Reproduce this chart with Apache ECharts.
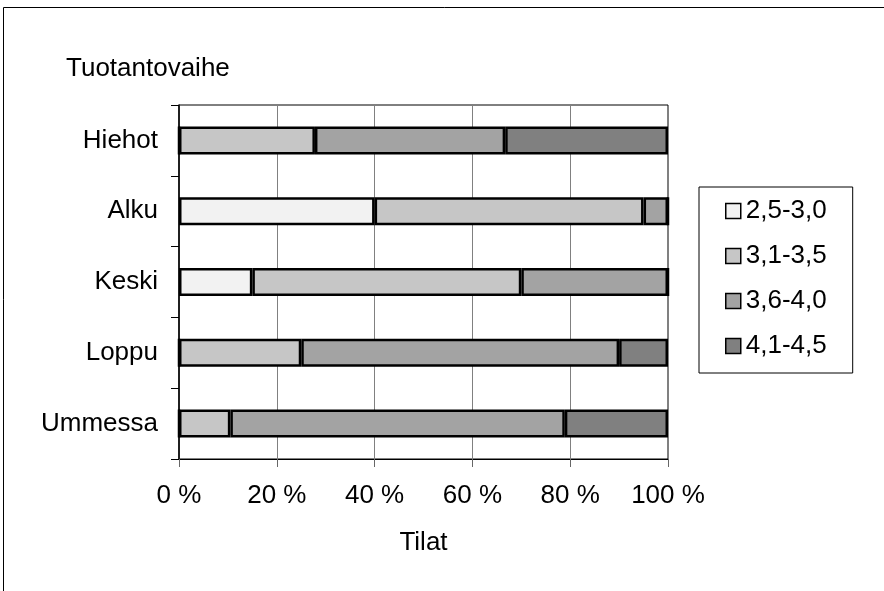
<!DOCTYPE html>
<html>
<head>
<meta charset="utf-8">
<script src="https://cdn.jsdelivr.net/npm/echarts@6/dist/echarts.min.js"></script>
<style>
  html, body { margin: 0; padding: 0; background: #fff; }
  #chart { width: 884px; height: 591px; }
</style>
</head>
<body>
<div id="chart"></div>
<script>
// Production phases (Tuotantovaihe) and share of farms (Tilat) per score class, %
const categories = ['Hiehot', 'Alku', 'Keski', 'Loppu', 'Ummessa'];
const seriesNames = ['2,5-3,0', '3,1-3,5', '3,6-4,0', '4,1-4,5'];
const s25_30 = [0, 40, 15, 0, 0];
const s31_35 = [27.8, 55, 55, 25, 10.5];
const s36_40 = [38.9, 5, 30, 65, 68.4];
const s41_45 = [33.3, 0, 0, 10, 21.1];
const xTicks = [0, 20, 40, 60, 80, 100];

const values = [s25_30, s31_35, s36_40, s41_45];
const fills = ['#f2f2f2', '#c6c6c6', '#a3a3a3', '#808080'];
const FONT = 'Liberation Sans, Arial, sans-serif';

const chart = echarts.init(document.getElementById('chart'), null, { renderer: 'canvas' });

chart.setOption({
  animation: false,
  backgroundColor: '#fff',
  textStyle: { fontFamily: FONT, color: '#000' },
  graphic: [
    {
      type: 'rect', z: -1, silent: true,
      shape: { x: 3.5, y: 7.5, width: 900, height: 600 },
      style: { fill: 'none', stroke: '#000', lineWidth: 1 }
    },
    {
      type: 'text', left: 66, top: 56,
      style: { text: 'Tuotantovaihe', font: '26px ' + FONT, fill: '#000' }
    }
  ],
  legend: {
    orient: 'vertical',
    left: 699, top: 187,
    padding: [11, 26, 14, 26],
    itemGap: 19,
    itemWidth: 15, itemHeight: 15,
    icon: 'rect',
    borderColor: '#000', borderWidth: 1,
    textStyle: { fontSize: 26, color: '#000', fontFamily: FONT },
    itemStyle: { borderColor: '#000', borderWidth: 1.5 },
    data: seriesNames
  },
  grid: {
    left: 179, right: 216, top: 105, bottom: 132,
    show: true, borderColor: '#000', borderWidth: 1
  },
  xAxis: {
    type: 'value',
    min: 0, max: 100, interval: 20,
    name: 'Tilat',
    nameLocation: 'middle',
    nameGap: 71,
    nameTextStyle: { fontSize: 26, color: '#000', fontFamily: FONT },
    axisLine: { show: true, lineStyle: { color: '#000', width: 1 } },
    axisTick: { show: true, length: 8, lineStyle: { color: '#666' } },
    axisLabel: {
      fontSize: 26, color: '#000', margin: 24, fontFamily: FONT,
      formatter: v => xTicks.includes(v) ? v + ' %' : ''
    },
    splitLine: { show: true, lineStyle: { color: '#808080', width: 1 } }
  },
  yAxis: {
    type: 'category',
    inverse: true,
    data: categories,
    axisLine: { show: true, lineStyle: { color: '#000', width: 1.5 } },
    axisTick: { show: true, length: 8, lineStyle: { color: '#000' } },
    axisLabel: { fontSize: 26, color: '#000', margin: 21, fontFamily: FONT }
  },
  series: seriesNames.map((name, i) => ({
    name,
    type: 'bar',
    stack: 'total',
    barWidth: 28,
    data: values[i],
    itemStyle: { color: fills[i], borderColor: '#000', borderWidth: 2.5 }
  }))
});
</script>
</body>
</html>
